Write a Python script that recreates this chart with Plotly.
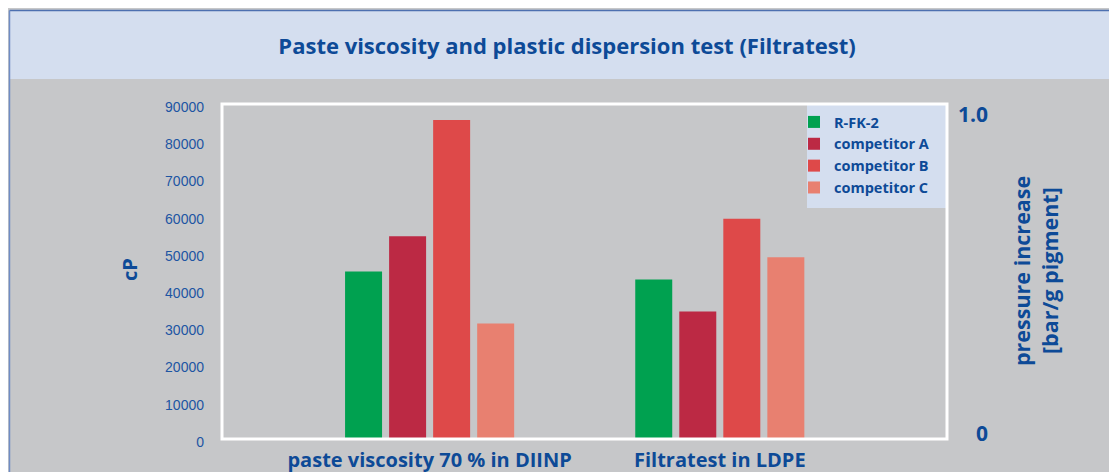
import plotly.graph_objects as go

# ---- data ----
categories = ["paste viscosity 70 % in DIINP", "Filtratest in LDPE"]
series_names = ["R-FK-2", "competitor A", "competitor B", "competitor C"]
viscosity_cp = [45000, 54500, 85700, 31000]          # left axis (cP)
filtratest_pressure = [0.50, 0.40, 0.69, 0.57]       # right axis (bar/g pigment)
left_ticks = [0, 10000, 20000, 30000, 40000, 50000, 60000, 70000, 80000, 90000]
right_ticks = [0, 1.0]
right_tick_text = ["0", "1.0"]

colors = ["#00a150", "#bc2944", "#de4949", "#e88070"]
BLUE = "#0d4a97"
TICKBLUE = "#1d55a3"
GRAY = "#c6c7c9"
BAND = "#d4deef"

OFF = 8  # page body margin
W, H = 1117, 472
L, T = 222 - OFF, 104 - OFF
PW, PH = 725, 335
R, B = W - L - PW, H - T - PH


def px(x):  # page x -> paper
    return (x - OFF - L) / PW


def py(y):  # page y -> paper
    return (T + PH - (y - OFF)) / PH


fig = go.Figure()
for i, name in enumerate(series_names):
    fig.add_trace(go.Bar(
        x=[categories[0]], y=[viscosity_cp[i]], name=name,
        marker=dict(color=colors[i], line=dict(width=0)),
        offsetgroup=str(i), legendgroup=name, yaxis="y",
    ))
for i, name in enumerate(series_names):
    fig.add_trace(go.Bar(
        x=[categories[1]], y=[filtratest_pressure[i]], name=name,
        marker=dict(color=colors[i], line=dict(width=0)),
        offsetgroup=str(i), legendgroup=name, showlegend=False, yaxis="y2",
    ))

shapes = [
    # title band
    dict(type="rect", xref="paper", yref="paper", x0=px(9.5), x1=px(1130), y0=py(79), y1=py(10.5),
         fillcolor=BAND, line=dict(width=0), layer="below"),
    # border lines
    dict(type="line", xref="paper", yref="paper", x0=px(9.5), x1=px(1130), y0=py(10.5), y1=py(10.5),
         line=dict(color="#4d70b0", width=1.5), layer="below"),
    dict(type="line", xref="paper", yref="paper", x0=px(9.5), x1=px(9.5), y0=py(10.5), y1=py(490),
         line=dict(color="#6f8cc4", width=1.5), layer="below"),
    # legend box
    dict(type="rect", xref="paper", yref="paper", x0=px(807), x1=px(946), y0=py(208), y1=py(105),
         fillcolor=BAND, line=dict(width=0), layer="below"),
    # white frame
    dict(type="rect", xref="paper", yref="paper", x0=0, x1=1, y0=0, y1=1,
         fillcolor="rgba(0,0,0,0)", line=dict(color="#ffffff", width=3), layer="above"),
]

annotations = [
    dict(text="cP", xref="paper", yref="paper", x=px(129), y=py(270), showarrow=False,
         textangle=-90, font=dict(family="Open Sans", size=20, color=BLUE, weight="bold"),
         xanchor="center", yanchor="middle"),
    dict(text="pressure increase", xref="paper", yref="paper", x=px(1021), y=py(271), showarrow=False,
         textangle=-90, font=dict(family="Open Sans", size=21.5, color=BLUE, weight="bold"),
         xanchor="center", yanchor="middle"),
    dict(text="[bar/g pigment]", xref="paper", yref="paper", x=px(1049), y=py(271), showarrow=False,
         textangle=-90, font=dict(family="Open Sans", size=21.5, color=BLUE, weight="bold"),
         xanchor="center", yanchor="middle"),
]
for v, t in zip(right_ticks, right_tick_text):
    annotations.append(dict(text=t, xref="paper", yref="y2", x=px(990), y=v, yshift=6,
                            showarrow=False, xanchor="right", yanchor="middle",
                            font=dict(family="Open Sans", size=21, color=BLUE, weight="bold")))

fig.update_layout(
    width=W, height=H,
    margin=dict(l=L, r=R, t=T, b=B, pad=0, autoexpand=False),
    paper_bgcolor=GRAY, plot_bgcolor=GRAY,
    barmode="group", bargap=0.393, bargroupgap=0.16,
    title=dict(text="Paste viscosity and plastic dispersion test (Filtratest)",
               x=(567 - OFF) / W, xanchor="center", y=1 - (46 - OFF) / H, yanchor="middle",
               font=dict(family="Open Sans", size=22, color=BLUE, weight="bold")),
    xaxis=dict(type="category", categoryarray=categories, range=[-0.7155, 1.783],
               showgrid=False, zeroline=False, showline=False, ticks="", automargin=False,
               tickfont=dict(family="Open Sans", size=20, color=BLUE, weight="bold"),
               ticklabelstandoff=7),
    yaxis=dict(range=[0, 90000], tickvals=left_ticks, ticktext=[str(v) for v in left_ticks],
               showgrid=False, zeroline=False, showline=False, ticks="", automargin=False,
               tickfont=dict(family="Liberation Sans", size=14, color=TICKBLUE),
               ticklabelstandoff=17, ticklabelshift=3),
    yaxis2=dict(range=[0, 1.05], overlaying="y", side="right", showgrid=False, zeroline=False,
                showline=False, ticks="", showticklabels=False, automargin=False),
    showlegend=True,
    legend=dict(x=px(794), xanchor="left", y=py(106), yanchor="top", bgcolor="rgba(0,0,0,0)",
                font=dict(family="Open Sans", size=14.5, color=BLUE, weight="bold"),
                itemwidth=30, tracegroupgap=0),
    shapes=shapes, annotations=annotations,
)

fig.write_html("out.html")
